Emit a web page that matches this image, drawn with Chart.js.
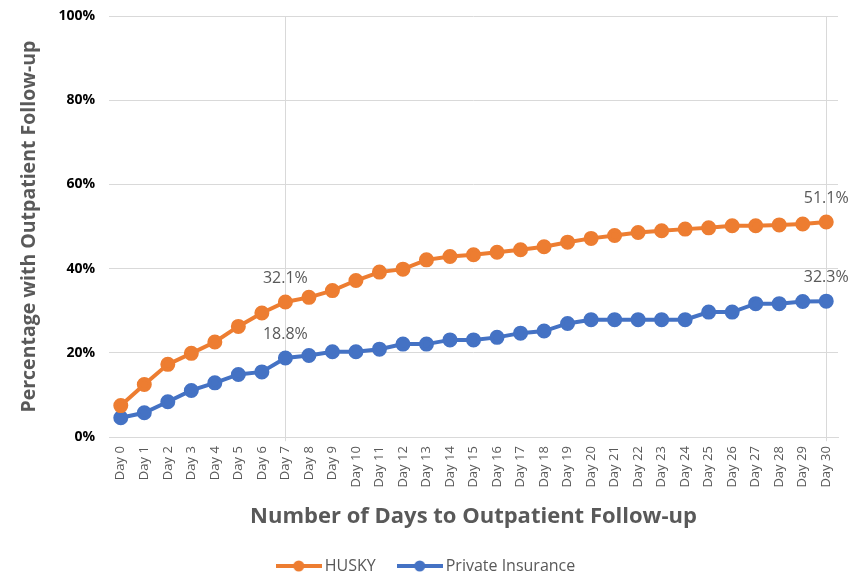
<!DOCTYPE html>
<html>
<head>
<meta charset="utf-8">
<script src="https://cdn.jsdelivr.net/npm/chart.js@4.4.0/dist/chart.umd.min.js"></script>
<style>
  body { margin: 0; background: #fff; }
</style>
</head>
<body>
<canvas id="myChart" width="868" height="577"></canvas>
<script>
const days = ["Day 0", "Day 1", "Day 2", "Day 3", "Day 4", "Day 5", "Day 6", "Day 7", "Day 8", "Day 9",
  "Day 10", "Day 11", "Day 12", "Day 13", "Day 14", "Day 15", "Day 16", "Day 17", "Day 18", "Day 19",
  "Day 20", "Day 21", "Day 22", "Day 23", "Day 24", "Day 25", "Day 26", "Day 27", "Day 28", "Day 29", "Day 30"];

const husky = [7.5, 12.5, 17.3, 19.9, 22.6, 26.3, 29.5, 32.1, 33.2, 34.8,
  37.2, 39.2, 39.9, 42.1, 42.9, 43.3, 43.9, 44.5, 45.2, 46.3,
  47.2, 47.9, 48.6, 49.0, 49.4, 49.7, 50.2, 50.2, 50.4, 50.6, 51.1];

const privateIns = [4.6, 5.8, 8.4, 11.1, 12.9, 14.9, 15.5, 18.8, 19.4, 20.3,
  20.3, 20.9, 22.1, 22.1, 23.1, 23.1, 23.7, 24.7, 25.2, 27.0,
  27.9, 27.9, 27.9, 27.9, 27.9, 29.7, 29.7, 31.7, 31.7, 32.2, 32.3];

const yTicks = [0, 20, 40, 60, 80, 100];
const labelDays = [7, 30]; // points that carry a value label
const markedDays = [7, 30]; // vertical grid lines

const orange = "#ED7D31";
const blue = "#4472C4";
const gray = "#595959";

// legend marker: line with a dot in the middle
function legendMarker(color) {
  const c = document.createElement("canvas");
  c.width = 46;
  c.height = 12;
  const g = c.getContext("2d");
  g.strokeStyle = color;
  g.lineWidth = 4;
  g.beginPath();
  g.moveTo(0, 6);
  g.lineTo(46, 6);
  g.stroke();
  g.fillStyle = color;
  g.beginPath();
  g.arc(23, 6, 5.5, 0, Math.PI * 2);
  g.fill();
  return c;
}

const valueLabels = {
  id: "valueLabels",
  afterDatasetsDraw(chart) {
    const ctx = chart.ctx;
    ctx.save();
    ctx.font = "16px 'Open Sans', sans-serif";
    ctx.fillStyle = gray;
    ctx.textAlign = "center";
    ctx.textBaseline = "middle";
    chart.data.datasets.forEach((ds, di) => {
      const meta = chart.getDatasetMeta(di);
      labelDays.forEach((i) => {
        const pt = meta.data[i];
        ctx.fillText(ds.data[i].toFixed(1) + "%", pt.x, pt.y - 24);
      });
    });
    ctx.restore();
  },
};

const ctx = document.getElementById("myChart").getContext("2d");

new Chart(ctx, {
  type: "line",
  data: {
    labels: days,
    datasets: [
      {
        label: "HUSKY",
        data: husky,
        borderColor: orange,
        backgroundColor: orange,
        borderWidth: 4,
        pointRadius: 5.5,
        pointHoverRadius: 5.5,
        pointStyle: "circle",
        tension: 0,
      },
      {
        label: "Private Insurance",
        data: privateIns,
        borderColor: blue,
        backgroundColor: blue,
        borderWidth: 4,
        pointRadius: 5.5,
        pointHoverRadius: 5.5,
        pointStyle: "circle",
        tension: 0,
      },
    ],
  },
  options: {
    responsive: false,
    animation: false,
    layout: {
      padding: { left: 18, right: 30, top: 16, bottom: -7 },
    },
    plugins: {
      legend: {
        display: true,
        position: "bottom",
        labels: {
          usePointStyle: true,
          pointStyleWidth: 36,
          padding: 26,
          color: gray,
          font: { family: "'Open Sans', sans-serif", size: 16 },
          generateLabels(chart) {
            return chart.data.datasets.map((ds, i) => ({
              text: ds.label,
              fillStyle: ds.borderColor,
              strokeStyle: ds.borderColor,
              pointStyle: legendMarker(ds.borderColor),
              fontColor: gray,
              datasetIndex: i,
              hidden: false,
              lineWidth: 0,
            }));
          },
        },
      },
      tooltip: { enabled: false },
    },
    scales: {
      x: {
        offset: true,
        grid: {
          color: (c) => (markedDays.includes(c.index) ? "#d9d9d9" : "rgba(0,0,0,0)"),
          tickLength: 4,
        },
        border: { display: true, color: "#d9d9d9" },
        ticks: {
          color: gray,
          autoSkip: false,
          maxRotation: 90,
          minRotation: 90,
          padding: 5,
          font: { family: "'Open Sans', sans-serif", size: 13 },
        },
        title: {
          display: true,
          text: "Number of Days to Outpatient Follow-up",
          color: gray,
          font: { family: "'Open Sans', sans-serif", size: 22, weight: "bold" },
          padding: { top: 11, bottom: 2 },
        },
      },
      y: {
        min: 0,
        max: 100,
        afterBuildTicks: (axis) => {
          axis.ticks = yTicks.map((v) => ({ value: v }));
        },
        afterFit: (axis) => {
          axis.paddingTop = 0;
          axis.paddingBottom = 0;
        },
        grid: { color: "#d9d9d9", drawTicks: false },
        border: { display: false },
        ticks: {
          color: "#000",
          padding: 14,
          font: { family: "'Open Sans', sans-serif", size: 14, weight: "bold" },
          callback: (v) => v + "%",
        },
        title: {
          display: true,
          text: "Percentage with Outpatient Follow-up",
          color: gray,
          font: { family: "'Open Sans', sans-serif", size: 19.5, weight: "bold" },
          padding: { top: 0, bottom: 3 },
        },
      },
    },
  },
  plugins: [valueLabels],
});
</script>
</body>
</html>
